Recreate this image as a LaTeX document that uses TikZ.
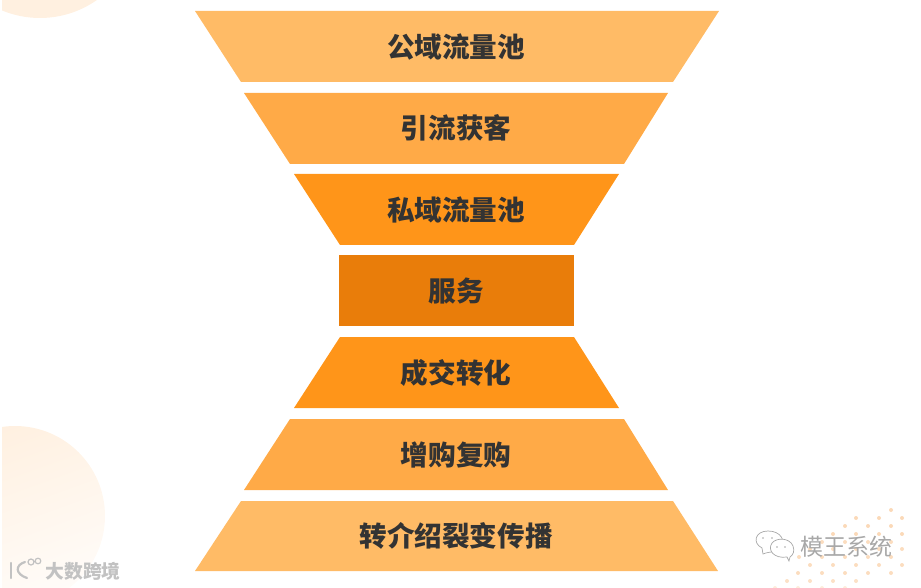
\documentclass[tikz,border=0pt]{standalone}
\usepackage{fontspec}
\setmainfont{Noto Sans CJK SC}
\definecolor{cA}{HTML}{FFBB66}
\definecolor{cB}{HTML}{FFAA47}
\definecolor{cC}{HTML}{FF9519}
\definecolor{cD}{HTML}{E97D0A}
\definecolor{txt}{HTML}{333333}
\definecolor{blobA}{HTML}{FFF0E0}
\definecolor{blobB}{HTML}{FFFCF9}
\definecolor{dotc}{HTML}{FBD9B8}
\definecolor{wm}{HTML}{A8A8A8}
\tikzset{
  lab/.style={font=\fontsize{27.6pt}{30pt}\selectfont\bfseries,text=txt,inner sep=0pt},
  wmark/.style={font=\fontsize{23pt}{26pt}\selectfont,text=wm,inner sep=0pt},
  wmarks/.style={font=\fontsize{18.8pt}{22pt}\selectfont\bfseries,text=wm!70,inner sep=0pt},
  bubble/.style={draw=wm,line width=0.7pt,fill=white},
  logo/.style={draw=wm!70,line width=2.2pt,line cap=round}
}
\begin{document}
\begin{tikzpicture}[x=1pt,y=-1pt]
\useasboundingbox (0,0) rectangle (921,588);
% background blobs
\begin{scope}
  \clip (2,0) rectangle (921,588);
  \fill[blobA] (40,-81) circle (99);
  \shade[top color=blobA,bottom color=blobB,shading angle=20] (15,516) circle (90);
\end{scope}
% dots
\begin{scope}
\clip (0,0) rectangle (921,588);
\foreach \y/\xs/\op in {510/{891}/1,518/{856,879,902}/1,526/{845,868,891}/1,534/{833,856,879,902}/1,
   542/{822,845,868,891}/.9,549/{810,833,856,879,902}/.9,557/{799,822,845,868,891}/.9,
   565/{810,833,856,879,902}/.9,573/{798,822,845,868,891}/.9,581/{787,810,833,856}/.8,588/{775,798,822,845}/.5}{
  \foreach \x in \xs { \fill[dotc,opacity=\op] (\x,\y) circle (2); }
}
\end{scope}
% funnel
\fill[cA] (195,11) -- (719,11) -- (673,82) -- (241,82) -- cycle;
\fill[cB] (244,93) -- (668,93) -- (624,164) -- (290,164) -- cycle;
\fill[cC] (294,174) -- (619,174) -- (574,245) -- (340,245) -- cycle;
\fill[cD] (339,255) rectangle (574,326);
\fill[cC] (340,337) -- (574,337) -- (619,408) -- (294,408) -- cycle;
\fill[cB] (290,419) -- (624,419) -- (668,490) -- (244,490) -- cycle;
\fill[cA] (241,501) -- (673,501) -- (718,571) -- (195,571) -- cycle;
\node[lab] (l1) at (456,47) {公域流量池};
\node[lab] (l2) at (456,128) {引流获客};
\node[lab] (l3) at (456,210) {私域流量池};
\node[lab] (l4) at (456,291) {服务};
\node[lab] (l5) at (456,373) {成交转化};
\node[lab] (l6) at (456,455) {增购复购};
\node[lab] (l7) at (456,536) {转介绍裂变传播};
% WeChat mark
\draw[bubble] (763,554) -- (762,548) .. controls (752,543) and (755,531) .. (768,531) .. controls (781,531) and (786,541) .. (781,548) .. controls (776,553) and (770,551) .. cycle;
\draw[bubble] (789,561) -- (787,557) .. controls (774,559) and (767,550) .. (772,543) .. controls (777,537) and (790,538) .. (793,546) .. controls (795,551) and (793,555) .. (790,557) -- cycle;
\fill[wm] (763,538) circle (.8) (772,538) circle (.8) (777,547) circle (.8) (785,547) circle (.8);
\node[wmark] (wm1) at (846,547) {模王系统};
% K100 mark
\draw[logo] (11,563) -- (11,578);
\draw[logo] (25,562) .. controls (15,565) and (15,574) .. (27,578);
\draw[logo,line width=1.2pt] (31,562) circle (3) (38,561) circle (2.8);
\node[wmarks] (wm2) at (83,571) {大数跨境};
\end{tikzpicture}
\end{document}
